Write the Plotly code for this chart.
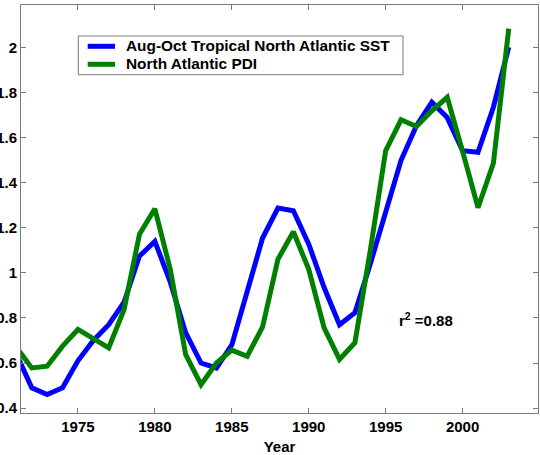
import plotly.graph_objects as go

# Annual series, 1971-2003
years = list(range(1971, 2004))
sst = [0.64, 0.49, 0.46, 0.49, 0.61, 0.70, 0.77, 0.87, 1.075, 1.14,
       0.96, 0.735, 0.60, 0.578, 0.68, 0.925, 1.155, 1.288, 1.276, 1.128,
       0.935, 0.77, 0.823, 1.04, 1.27, 1.50, 1.654, 1.758, 1.69, 1.543,
       1.536, 1.736, 2.003]
pdi = [0.67, 0.578, 0.586, 0.675, 0.749, 0.705, 0.667, 0.838, 1.172, 1.285,
       1.016, 0.638, 0.504, 0.60, 0.657, 0.63, 0.76, 1.061, 1.183, 1.016,
       0.756, 0.616, 0.69, 1.10, 1.543, 1.68, 1.65, 1.72, 1.78, 1.54,
       1.29, 1.487, 2.085]

series_names = ["Aug-Oct Tropical North Atlantic SST", "North Atlantic PDI"]
series_colors = ["#0000ff", "#007f00"]

x_ticks = [1975, 1980, 1985, 1990, 1995, 2000]
y_ticks = [0.4, 0.6, 0.8, 1.0, 1.2, 1.4, 1.6, 1.8, 2.0]
y_labels = ["0.4", "0.6", "0.8", "1", "1.2", "1.4", "1.6", "1.8", "2"]

FONT = "Liberation Sans, Arial, sans-serif"
FRAME = "#7a7a7a"
bold = dict(family=FONT, size=15, color="black", weight="bold")

fig = go.Figure()
for name, vals, col in zip(series_names, [sst, pdi], series_colors):
    fig.add_trace(go.Scatter(x=years, y=vals, mode="lines", name=name,
                             showlegend=False,
                             line=dict(color=col, width=5)))

axis_common = dict(
    ticks="inside", ticklen=5, tickcolor=FRAME, tickwidth=1,
    showline=True, linecolor=FRAME, linewidth=1, mirror="ticks",
    showgrid=False, zeroline=False, tickfont=bold,
)

fig.update_xaxes(range=[1971.3, 2004.9], tickvals=x_ticks,
                 title=dict(text="Year", standoff=7, font=bold),
                 **axis_common)
fig.update_yaxes(range=[0.378, 2.19], tickvals=y_ticks, ticktext=y_labels,
                 **axis_common)

fig.add_annotation(x=1995.75, y=0.795, xref="x", yref="y",
                   xanchor="left", yanchor="middle", showarrow=False,
                   text="r<sup>2</sup> =0.88", font=bold)

# Boxed key in the upper left of the axes
fig.add_shape(type="rect", xref="paper", yref="paper",
              x0=0.1108, x1=0.7389, y0=0.8292, y1=0.924,
              line=dict(color=FRAME, width=1), fillcolor="white", layer="above")
key_rows = [0.8988, 0.8547]
for name, col, yk in zip(series_names, series_colors, key_rows):
    fig.add_shape(type="line", xref="paper", yref="paper",
                  x0=0.1290, x1=0.1818, y0=yk, y1=yk,
                  line=dict(color=col, width=5), layer="above")
    fig.add_annotation(x=0.1998, y=yk + 0.002, xref="paper", yref="paper",
                       xanchor="left", yanchor="middle", showarrow=False,
                       text=name, font=dict(bold, size=15.4))

fig.update_layout(
    width=540, height=455,
    margin=dict(l=21, r=2, t=5, b=42, autoexpand=False),
    paper_bgcolor="white", plot_bgcolor="white",
    showlegend=False,
)

fig.write_html("out.html")
